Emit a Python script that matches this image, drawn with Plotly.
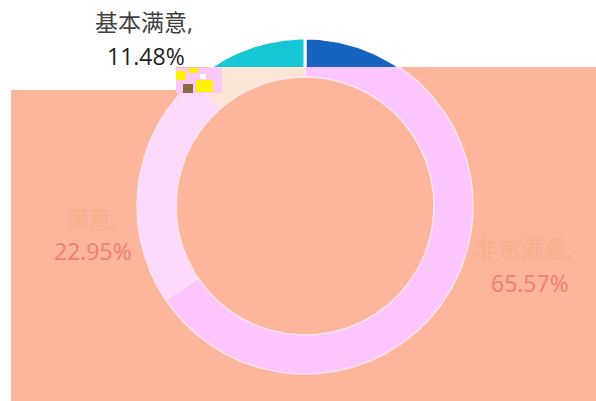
import numpy as np
import plotly.graph_objects as go

# ---- data ----
categories = ["非常满意", "满意", "基本满意"]
values = [65.57, 22.95, 11.48]
colors_true = ["#1565C0", "#8C8C8C", "#17C6D4"]
colors_glitch = ["#FDC5FD", "#FDD9FC", "#FDE6D6"]

# ---- layout constants (pixels) ----
W, H = 596, 401
CX, CY = 305, 206          # donut centre
R_PX = 168                 # outer radius
HOLE = 129 / 168           # inner / outer
SPLIT = 67                 # pixel row where the glitch starts

def px_x(p):
    return (p - CX) / R_PX

def px_y(p):
    return (CY - p) / R_PX

fig = go.Figure()

def ring_traces(xa, ya, colors, line_color, line_w):
    total = sum(values)
    start = 0.0
    for cat, v, c in zip(categories, values, colors):
        a0 = start / total * 360
        a1 = (start + v) / total * 360
        start += v
        t = np.radians(np.linspace(a0, a1, 240))
        xs = np.concatenate([np.sin(t), HOLE * np.sin(t[::-1])])
        ys = np.concatenate([np.cos(t), HOLE * np.cos(t[::-1])])
        xs = np.append(xs, xs[0])
        ys = np.append(ys, ys[0])
        fig.add_trace(go.Scatter(
            x=xs, y=ys, mode="lines", fill="toself", fillcolor=c,
            line=dict(color=line_color, width=line_w), name=cat,
            hoverinfo="skip", xaxis=xa, yaxis=ya, showlegend=False))

ring_traces("x", "y", colors_true, "white", 3)
ring_traces("x2", "y2", colors_glitch, "#FCE4EE", 1.5)

split_frac = 1 - SPLIT / H
axis_common = dict(visible=False, showgrid=False, zeroline=False, fixedrange=True)
fig.update_layout(
    width=W, height=H,
    margin=dict(l=0, r=0, t=0, b=0),
    paper_bgcolor="white", plot_bgcolor="rgba(0,0,0,0)",
    showlegend=False, hovermode=False,
    xaxis=dict(domain=[0, 1], range=[px_x(0), px_x(W)], anchor="y", **axis_common),
    yaxis=dict(domain=[split_frac, 1], range=[px_y(SPLIT), px_y(0)], anchor="x", **axis_common),
    xaxis2=dict(domain=[0, 1], range=[px_x(0), px_x(W)], anchor="y2", **axis_common),
    yaxis2=dict(domain=[0, split_frac], range=[px_y(H), px_y(SPLIT)], anchor="x2", **axis_common),
)

# salmon glitch background
SALMON = "#FDB59C"
fig.add_shape(type="rect", xref="paper", yref="paper", layer="below",
              x0=11 / W, x1=1, y0=0, y1=1 - 90 / H, fillcolor=SALMON, line_width=0)
fig.add_shape(type="rect", xref="paper", yref="paper", layer="below",
              x0=176 / W, x1=1, y0=0, y1=1 - SPLIT / H, fillcolor=SALMON, line_width=0)

# small glitch block
def prect(x0, y0, x1, y1, col):
    fig.add_shape(type="rect", xref="paper", yref="paper", layer="above",
                  x0=x0 / W, x1=x1 / W, y0=1 - y1 / H, y1=1 - y0 / H,
                  fillcolor=col, line_width=0)

prect(176, 68, 222, 93, "#FBC8F8")
prect(176, 71, 186, 80, "#FFF200")
prect(189, 68, 198, 73, "#FFF200")
prect(196, 80, 213, 92, "#FFF200")
prect(183, 84, 193, 93, "#8A6A40")
prect(200, 74, 206, 79, "#FFFFFF")

# labels
FONT = "Open Sans, Noto Sans CJK SC, sans-serif"
def label(text, cx, cy, color, size=23):
    fig.add_annotation(text=text, xref="paper", yref="paper",
                       x=cx / W, y=1 - cy / H, xanchor="center", yanchor="middle",
                       showarrow=False, font=dict(family=FONT, size=size, color=color))

label(f"{categories[2]},", 144, 22, "#404040")
label(f"{values[2]:.2f}%", 146, 56, "#1E1E1E")
label(f"{categories[1]},", 92, 219, "#F9AE8C")
label(f"{values[1]:.2f}%", 93, 251, "#F0806E")
label(f"{categories[0]},", 524, 248, "#F9AE8C")
label(f"{values[0]:.2f}%", 530, 283, "#F0806E")

fig.write_html("out.html", config={"displayModeBar": False, "staticPlot": True},
               post_script="document.body.style.margin='0';document.body.style.overflow='hidden';")
